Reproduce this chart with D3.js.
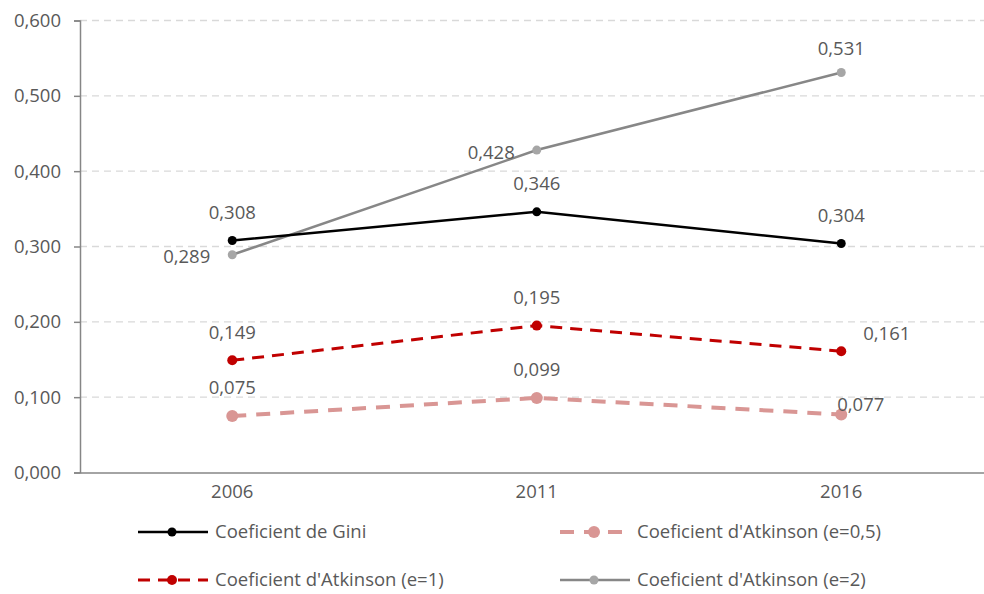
<!DOCTYPE html>
<html><head><meta charset="utf-8">
<script src="https://cdn.jsdelivr.net/npm/d3@7"></script>
<style>body{margin:0;background:#fff}svg{display:block}text{font-family:"Open Sans",sans-serif;fill:#595959}</style>
</head><body><svg id="c" width="984" height="594"></svg>
<script>
const years = ["2006","2011","2016"];
const gini = [0.308, 0.346, 0.304];
const atk05 = [0.075, 0.099, 0.077];
const atk1 = [0.149, 0.195, 0.161];
const atk2 = [0.289, 0.428, 0.531];
const yTicks = [0, 0.1, 0.2, 0.3, 0.4, 0.5, 0.6];
const seriesNames = ["Coeficient de Gini","Coeficient d'Atkinson (e=0,5)","Coeficient d'Atkinson (e=1)","Coeficient d'Atkinson (e=2)"];

const fmt = v => d3.format(".3f")(v).replace(".", ",");
const FS = "18.5px";
const svg = d3.select("#c");
const L = 80, R = 993.5, T = 20.5, B = 472.5;
const x = d3.scaleBand().domain(years).range([L, R]);
const y = d3.scaleLinear().domain([0, 0.6]).range([B, T]);
const cx = d => x(d) + x.bandwidth()/2;

// gridlines
svg.append("g").selectAll("line").data(yTicks.filter(t => t > 0)).join("line")
  .attr("x1", L).attr("x2", R).attr("y1", d => y(d)).attr("y2", d => y(d))
  .attr("stroke", "#d9d9d9").attr("stroke-width", 1.3).attr("stroke-dasharray", "7,5");

// y axis
const ya = svg.append("g").attr("transform", `translate(${L},0)`)
  .call(d3.axisLeft(y).tickValues(yTicks).tickFormat(fmt).tickSize(6).tickPadding(13));
ya.select(".domain").attr("stroke", "#868686").attr("stroke-width", 1.5);
ya.selectAll(".tick line").attr("stroke", "#868686").attr("stroke-width", 1.5);
ya.selectAll("text").style("font-size", FS).style("fill", "#595959").style("font-family", "Open Sans");

// x axis
const xa = svg.append("g").attr("transform", `translate(0,${B})`)
  .call(d3.axisBottom(x).tickSize(0).tickPadding(12));
xa.select(".domain").attr("stroke", "#868686").attr("stroke-width", 1.5);
xa.selectAll("text").style("font-size", FS).style("fill", "#595959").style("font-family", "Open Sans");

const series = [
  {name: seriesNames[0], vals: gini, stroke: "#000000", fill: "#000000", w: 2.5, dash: null, r: 4.5,
   lab: [[0,-28,"middle"],[0,-28,"middle"],[0,-28,"middle"]]},
  {name: seriesNames[1], vals: atk05, stroke: "#d99694", fill: "#d99694", w: 4, dash: "14,10", r: 6,
   lab: [[0,-28,"middle"],[0,-28,"middle"],[-4,-10,"start"]]},
  {name: seriesNames[2], vals: atk1, stroke: "#c00000", fill: "#c00000", w: 3, dash: "12,8", r: 5,
   lab: [[0,-28,"middle"],[0,-28,"middle"],[22,-18,"start"]]},
  {name: seriesNames[3], vals: atk2, stroke: "#878787", fill: "#a6a6a6", w: 2.5, dash: null, r: 4.5,
   lab: [[-22,2,"end"],[-22,2,"end"],[0,-24,"middle"]]}
];
const drawOrder = [3, 0, 2, 1];
drawOrder.forEach(i => {
  const s = series[i];
  const line = d3.line().x((d, j) => cx(years[j])).y(d => y(d));
  svg.append("path").datum(s.vals).attr("d", line).attr("fill", "none")
    .attr("stroke", s.stroke).attr("stroke-width", s.w).attr("stroke-dasharray", s.dash);
  svg.append("g").selectAll("circle").data(s.vals).join("circle")
    .attr("cx", (d, j) => cx(years[j])).attr("cy", d => y(d)).attr("r", s.r).attr("fill", s.fill);
});
series.forEach(s => {
  svg.append("g").selectAll("text").data(s.vals).join("text")
    .attr("x", (d, j) => cx(years[j]) + s.lab[j][0])
    .attr("y", (d, j) => y(d) + s.lab[j][1])
    .attr("text-anchor", (d, j) => s.lab[j][2])
    .attr("dy", "0.35em")
    .style("font-size", FS).text(d => fmt(d));
});

// legend
const legPos = [[138, 532], [560, 532], [138, 580], [560, 580]];
series.forEach((s, i) => {
  const [lx, ly] = legPos[i];
  const g = svg.append("g").attr("transform", `translate(${lx},${ly})`);
  g.append("line").attr("x1", 0).attr("x2", 70).attr("y1", 0).attr("y2", 0)
    .attr("stroke", s.stroke).attr("stroke-width", s.w).attr("stroke-dasharray", s.dash);
  g.append("circle").attr("cx", 34).attr("cy", 0).attr("r", s.r).attr("fill", s.fill);
  g.append("text").attr("x", 77).attr("y", 0).attr("dy", "0.35em").style("font-size", FS).text(s.name);
});
</script></body></html>
